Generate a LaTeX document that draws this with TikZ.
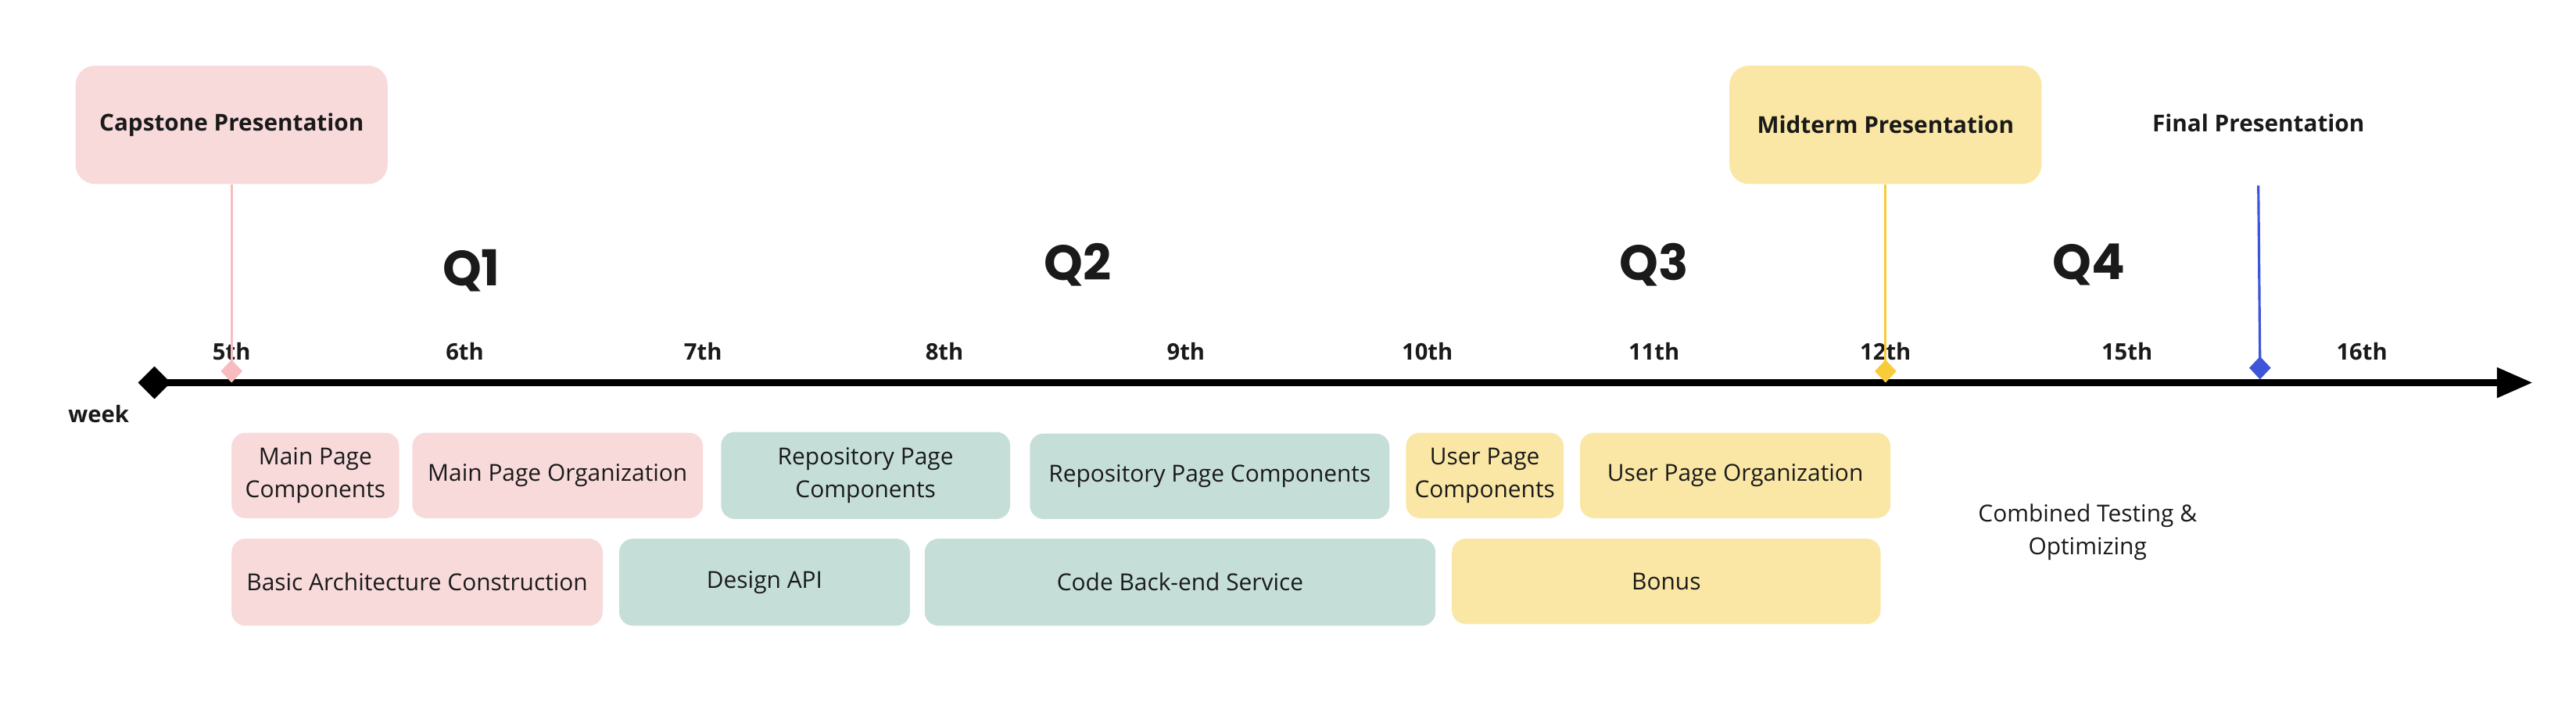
\documentclass[tikz,border=0pt]{standalone}
\usepackage{fontspec}
\setmainfont{Open Sans}
\newfontfamily\qfont{Poppins}
\usetikzlibrary{arrows.meta,shapes.geometric}
\definecolor{pinkbox}{HTML}{F8DADB}
\definecolor{tealbox}{HTML}{C5DFD8}
\definecolor{yellowbox}{HTML}{FAE7A5}
\definecolor{pinkline}{HTML}{F7BCBF}
\definecolor{yellowline}{HTML}{F8CB3A}
\definecolor{blueline}{HTML}{3D55D8}
\definecolor{ink}{HTML}{1A1A1A}
\begin{document}
\begin{tikzpicture}[x=0.021cm,y=-0.021cm,
  boxsize/.style 2 args={minimum width=#1*0.021cm,minimum height=#2*0.021cm},
  milestone/.style={rounded corners=7pt,inner sep=0pt,text=ink,%
    font=\fontsize{8.45}{12}\selectfont\bfseries},
  task/.style={rounded corners=5pt,inner sep=0pt,align=center,text=ink,%
    font=\fontsize{8.5}{11.9}\selectfont},
  weeklbl/.style={text=ink,font=\fontsize{8.3}{10}\selectfont\bfseries},
  quarter/.style={text=ink,font=\fontsize{18}{20}\selectfont\qfont\bfseries},
  marker/.style={shape=diamond,inner sep=0pt,minimum width=8pt,minimum height=8.5pt}]
      \useasboundingbox (0,0) rectangle (1568.4,427) ;
      % milestones
      \node[milestone,fill=pinkbox,boxsize={190}{72}] (cap) at (141,76) {Capstone Presentation} ;
      \node[milestone,fill=yellowbox,boxsize={190}{72}] (mid) at (1148,76) {Midterm Presentation} ;
      \node[milestone] (fin) at (1375,75) {Final Presentation} ;
      \coordinate (fin0) at (1375,113) ;
      % axis
      \node[shape=diamond,fill=black,inner sep=0pt,minimum size=12pt] (w0) at (94,233) {} ;
      \coordinate (wend) at (1542,233) ;
      \draw[line width=2.5pt,-{Triangle[length=13pt,width=10.5pt]}] (w0.center) -- (wend) ;
      \node[weeklbl] (wk) at (60,252) {week} ;
      \foreach \x/\w in {141/5th,283/6th,428/7th,575/8th,722/9th,869/10th,1007/11th,1148/12th,1295/15th,1438/16th}
        \node[weeklbl] at (\x,214) {\w} ;
      \node[quarter] (Q1) at (287,165) {Q1} ;
      \node[quarter] (Q2) at (656,161) {Q2} ;
      \node[quarter] (Q3) at (1007,161) {Q3} ;
      \node[quarter] (Q4) at (1272,161) {Q4} ;
      % markers
      \draw[pinkline,line width=0.8pt] (cap) -- (141,224) ;
      \draw[yellowline,line width=0.8pt] (mid) -- (1148,224) ;
      \draw[blueline,line width=0.9pt] (fin0) -- (1376,222) ;
      \node[marker,fill=pinkline] (dcap) at (141,226) {} ;
      \node[marker,fill=yellowline] (dmid) at (1148,226) {} ;
      \node[marker,fill=blueline] (dfin) at (1376,224) {} ;
      % tasks
      \node[task,fill=pinkbox,boxsize={102}{52}] (t1) at (192,289.5) {Main Page\\Components} ;
      \node[task,fill=pinkbox,boxsize={177}{52}] (t2) at (339.5,289.5) {Main Page Organization} ;
      \node[task,fill=tealbox,boxsize={176}{53}] (t3) at (527,289.5) {Repository Page\\Components} ;
      \node[task,fill=tealbox,boxsize={219}{52}] (t4) at (736.5,290) {Repository Page Components} ;
      \node[task,fill=yellowbox,boxsize={96}{52}] (t5) at (904,289.5) {User Page\\Components} ;
      \node[task,fill=yellowbox,boxsize={189}{52}] (t6) at (1056.5,289.5) {User Page Organization} ;
      \node[task,fill=pinkbox,boxsize={226}{53}] (b1) at (254,354.5) {Basic Architecture Construction} ;
      \node[task,fill=tealbox,boxsize={177}{53}] (b2) at (465.5,354.5) {Design API} ;
      \node[task,fill=tealbox,boxsize={311}{53}] (b3) at (718.5,354.5) {Code Back-end Service} ;
      \node[task,fill=yellowbox,boxsize={261}{52}] (b4) at (1014.5,354) {Bonus} ;
      \node[task] (ct) at (1271,324) {Combined Testing \&\\Optimizing} ;
\end{tikzpicture}
\end{document}
